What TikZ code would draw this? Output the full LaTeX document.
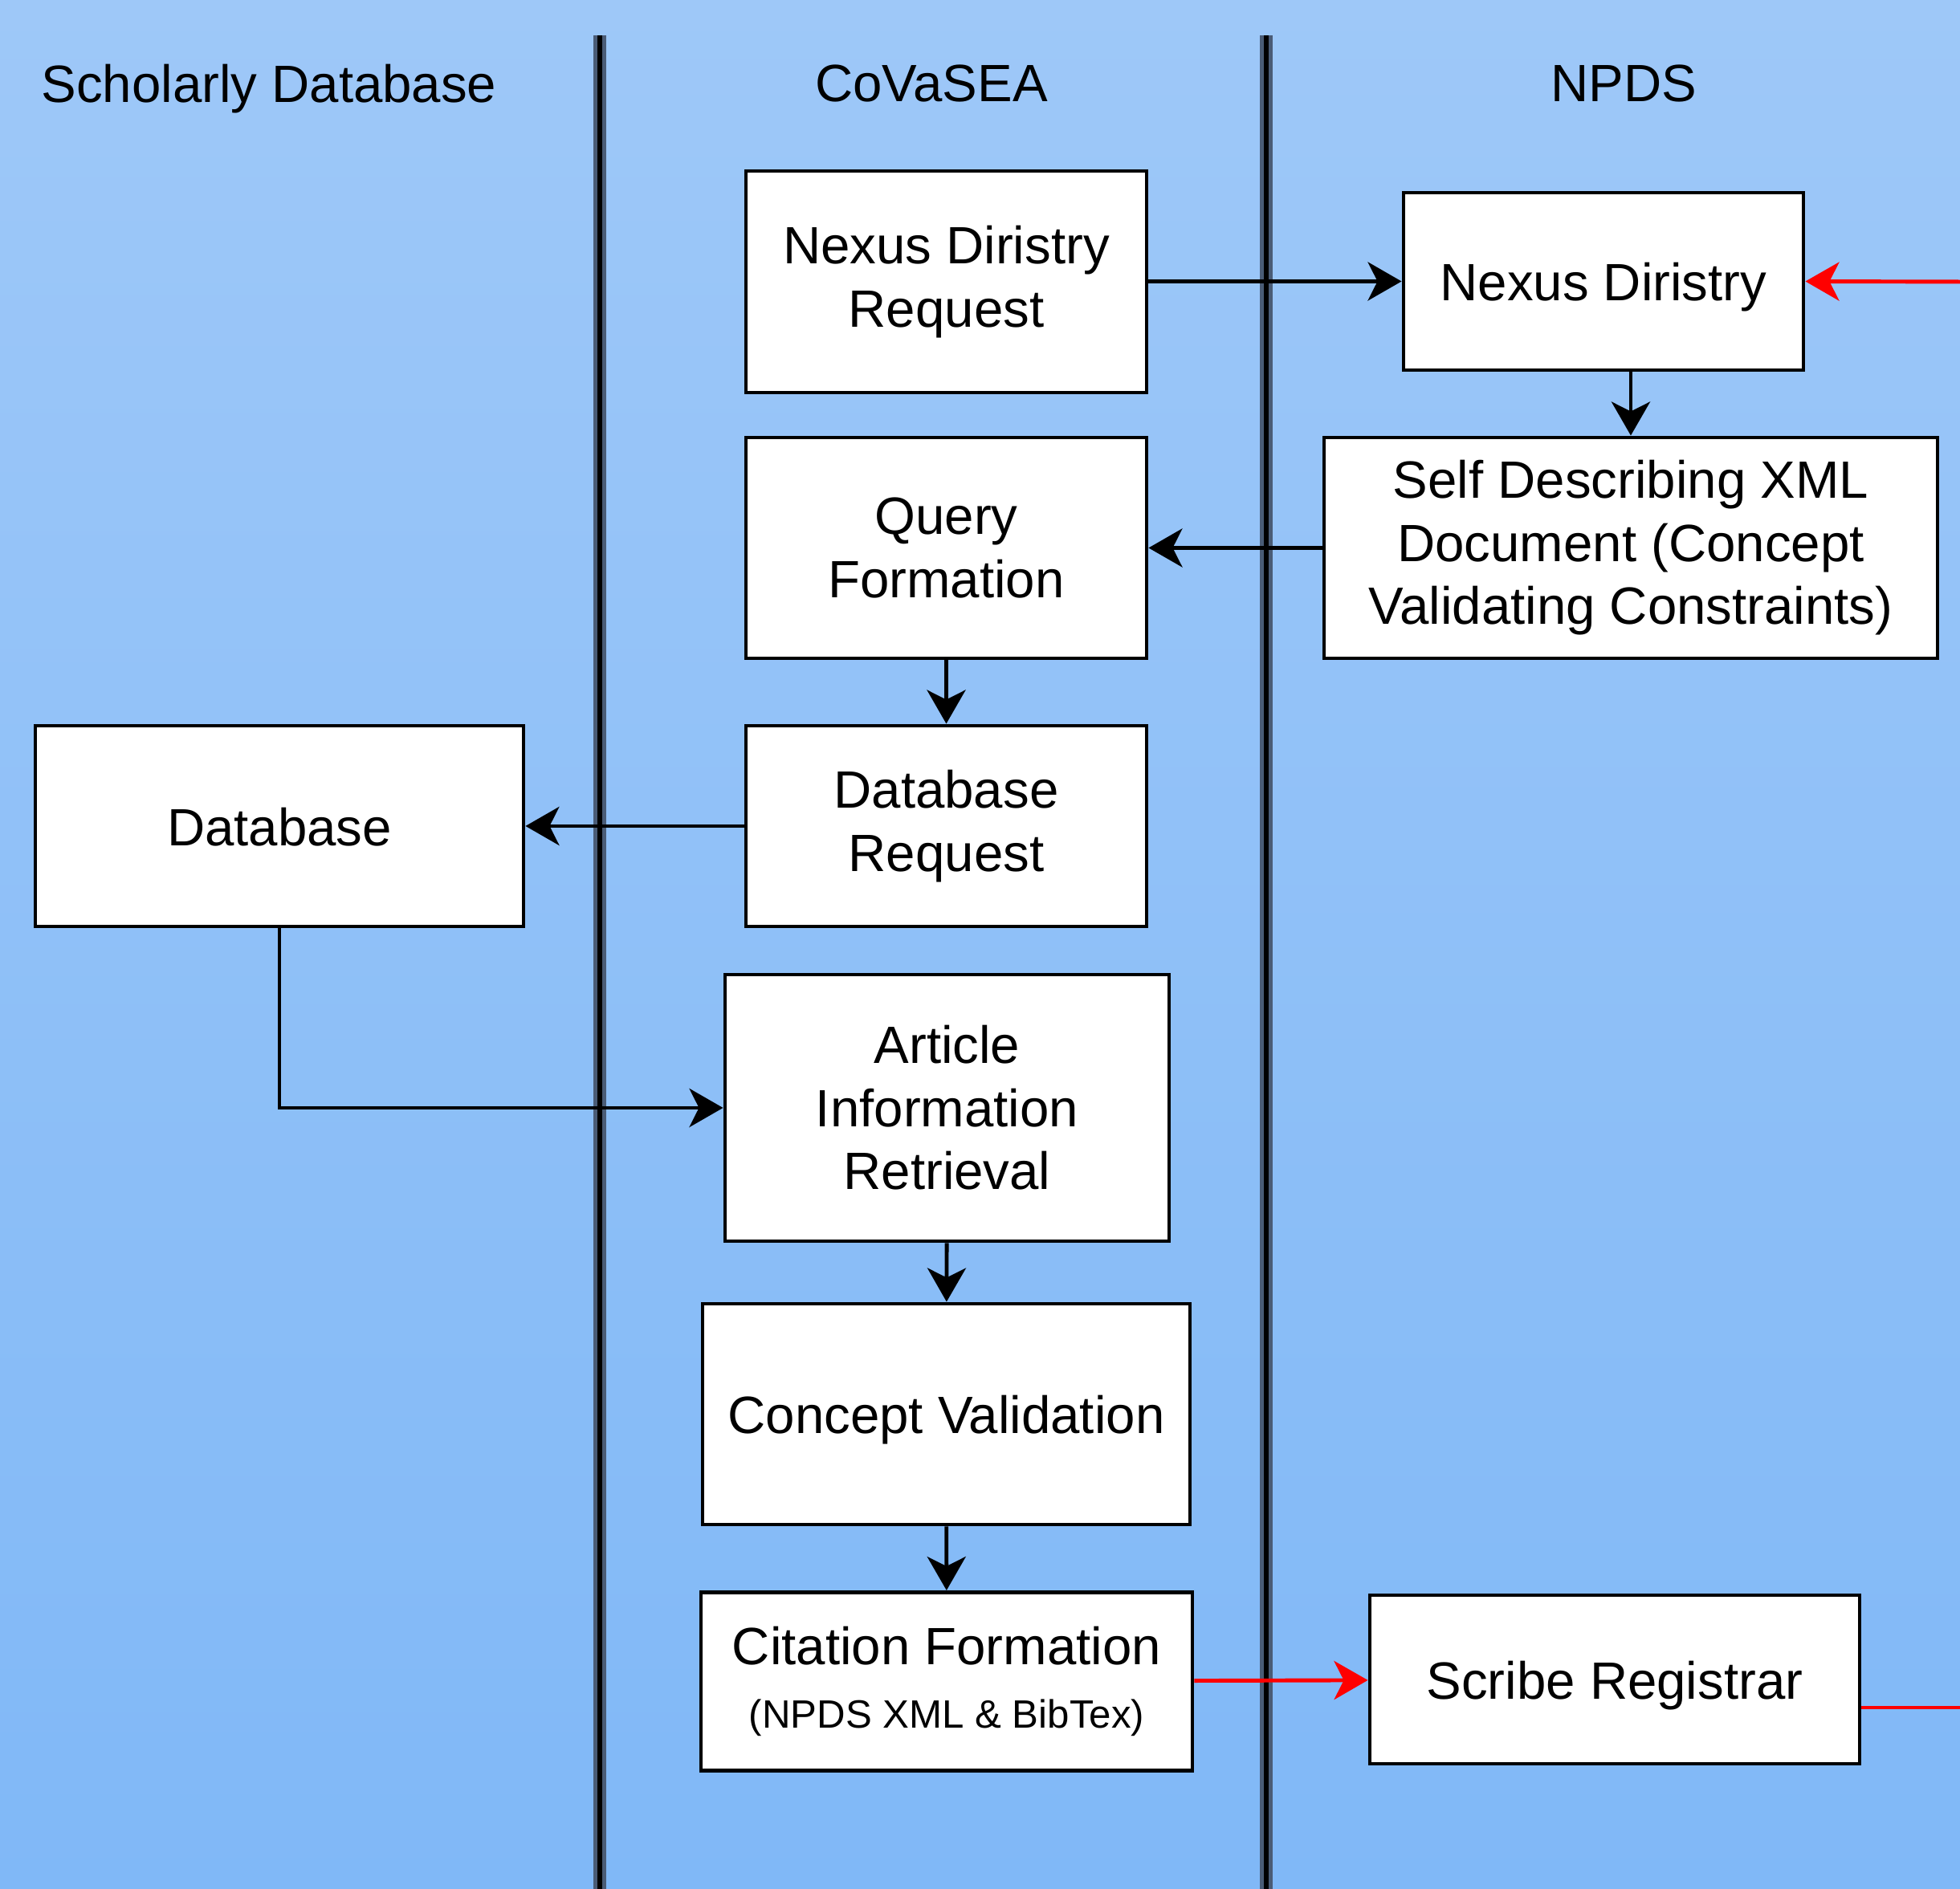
\documentclass[tikz,border=0pt]{standalone}
\usepackage{fontspec}
\setmainfont{Liberation Sans}
\usepackage{xcolor}
\usepackage{tikz}
\usetikzlibrary{shapes,arrows,positioning,calc,arrows.meta}

\definecolor{laneTop}{RGB}{158,200,248}
\definecolor{laneBottom}{RGB}{128,184,247}
\definecolor{laneEdge}{RGB}{74,92,118}

\tikzset{
    procbox/.style={draw=black, fill=white, line width=1.4pt, inner sep=0pt, align=center,
        font=\fontsize{18.6}{22.3}\selectfont},
    oneline/.style={text height=16.7pt, text depth=2.8pt},
    flow/.style={line width=1.4pt, -{Stealth[length=0.42cm,width=0.48cm,inset=0.12cm]}},
    redflow/.style={flow, draw=red, -{Stealth[length=0.42cm,width=0.48cm,inset=0.12cm,fill=red]}},
    lanesep/.style={draw=laneEdge, line width=0.05cm, double=black, double distance=0.06cm},
    lanetitle/.style={font=\fontsize{18.6}{22.3}\selectfont, text depth=0pt}
}

\begin{document}
\begin{tikzpicture}
    % Background
    \useasboundingbox (0,0) rectangle (24.41,23.53);
    \shade[top color=laneTop, bottom color=laneBottom] (0,0) rectangle (24.41,23.53);

    % Lanes
    \draw[lanesep] (7.47,23.09) -- (7.47,0);
    \draw[lanesep] (15.77,23.09) -- (15.77,0);
    \node[lanetitle] (titleSD) at (3.35,22.49) {Scholarly Database};
    \node[lanetitle] (titleCV) at (11.60,22.49) {CoVaSEA};
    \node[lanetitle] (titleNP) at (20.22,22.49) {NPDS};

    % Boxes
    \node[procbox, minimum width=4.99cm, minimum height=2.76cm] (ndReq) at (11.785,20.02) {Nexus Diristry\\Request};
    \node[procbox, oneline, minimum width=4.98cm, minimum height=2.21cm] (nd) at (19.97,20.025) {Nexus Diristry};
    \node[procbox, minimum width=7.64cm, minimum height=2.75cm] (xmlDoc) at (20.31,16.705) {Self Describing XML\\Document (Concept\\Validating Constraints)};
    \node[procbox, minimum width=4.99cm, minimum height=2.75cm] (query) at (11.785,16.705) {Query\\Formation};
    \node[procbox, minimum width=4.99cm, minimum height=2.50cm] (dbReq) at (11.785,13.24) {Database\\Request};
    \node[procbox, oneline, minimum width=6.08cm, minimum height=2.50cm] (db) at (3.48,13.24) {Database};
    \node[procbox, minimum width=5.53cm, minimum height=3.32cm] (article) at (11.795,9.73) {Article\\Information\\Retrieval};
    \node[procbox, oneline, minimum width=6.07cm, minimum height=2.75cm] (concept) at (11.785,5.915) {Concept Validation};
    \node[procbox, minimum width=6.12cm, minimum height=2.22cm] (citation) at (11.79,2.585) {Citation Formation\\{\fontsize{14}{17}\selectfont (NPDS XML \& BibTex)}};
    \node[procbox, oneline, minimum width=6.10cm, minimum height=2.10cm] (scribe) at (20.11,2.61) {Scribe Registrar};

    % Free ends at the right edge
    \coordinate (ndIn) at (24.41,20.02);
    \coordinate (scribeOut) at (24.41,2.26);

    % Arrows
    \draw[flow] (ndReq.east |- nd) -- (nd);
    \draw[redflow] (ndIn) -- (nd.east);
    \draw[flow] (xmlDoc.north |- nd.south) -- (xmlDoc.north);
    \draw[flow] (xmlDoc) -- (query);
    \draw[flow] (query) -- (dbReq);
    \draw[flow] (dbReq) -- (db);
    \draw[flow] (db.south) |- (article.west);
    \draw[flow] (article) -- (concept);
    \draw[flow] (concept) -- (citation);
    \draw[redflow] (citation) -- (scribe);
    \draw[red, line width=1.4pt] (scribeOut -| scribe.east) -- (scribeOut);
\end{tikzpicture}
\end{document}
